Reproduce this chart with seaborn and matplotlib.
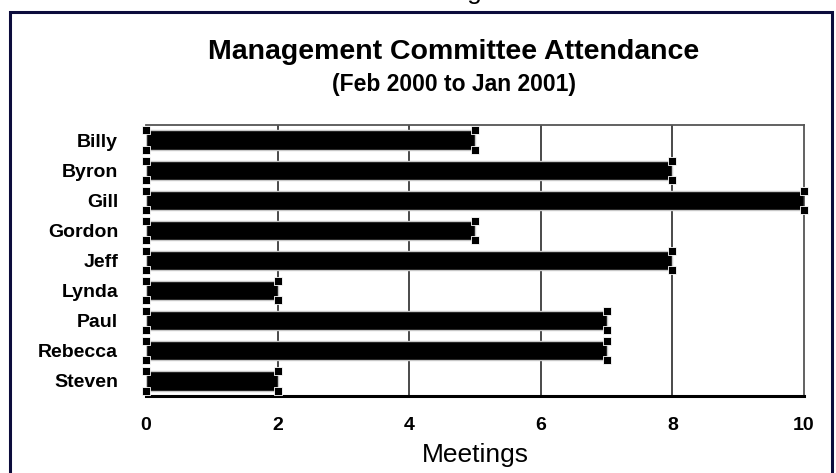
import matplotlib
matplotlib.use("Agg")
import matplotlib.pyplot as plt
import seaborn as sns
import pandas as pd
from matplotlib.patches import Rectangle

# Attendance data
members = ["Billy", "Byron", "Gill", "Gordon", "Jeff", "Lynda", "Paul", "Rebecca", "Steven"]
meetings = [5, 8, 10, 5, 8, 2, 7, 7, 2]
x_ticks = [0, 2, 4, 6, 8, 10]

df = pd.DataFrame({"member": members, "meetings": meetings})

sns.set_theme(style="white")
plt.rcParams["font.family"] = ["Liberation Sans", "DejaVu Sans"]

W, H = 837, 473
fig = plt.figure(figsize=(W / 100, H / 100), dpi=100)
fig.patch.set_facecolor("white")

left, right, top, bottom = 146, 804, 125, 396
ax = fig.add_axes([left / W, 1 - bottom / H, (right - left) / W, (bottom - top) / H])

sns.barplot(data=df, x="meetings", y="member", orient="h", color="black",
            width=0.64, edgecolor="#c8c8c8", linewidth=1.0, saturation=1,
            ax=ax, zorder=3)

ax.set_xlim(0, 10)
ax.set_ylim(len(members) - 0.5, -0.5)
ax.set_xticks(x_ticks)
ax.set_xticklabels([str(t) for t in x_ticks], fontsize=14, fontweight="bold", color="black")
ax.tick_params(axis="x", length=0, pad=15)
ax.tick_params(axis="y", length=0, pad=20)
for lab in ax.get_yticklabels():
    lab.set_fontsize(14)
    lab.set_fontweight("bold")
    lab.set_color("black")

# vertical gridlines
for t in x_ticks[1:-1]:
    ax.axvline(t, color="#3a3a3a", linewidth=1.3, zorder=1)

ax.set_xlabel("")
ax.set_ylabel("")

for side in ["top", "right"]:
    ax.spines[side].set_color("#555555")
    ax.spines[side].set_linewidth(1.3)
ax.spines["bottom"].set_color("black")
ax.spines["bottom"].set_linewidth(2.2)
ax.spines["left"].set_visible(False)

# square handles at the bar corners
hx, hy = [], []
for p in ax.patches:
    x0, y0 = p.get_x(), p.get_y()
    w, h = p.get_width(), p.get_height()
    for xx in (x0, x0 + w):
        hx += [xx, xx]
        hy += [y0, y0 + h]
ax.scatter(hx, hy, marker="s", s=28, color="black", edgecolors="white",
           linewidths=0.6, zorder=5, clip_on=False)

# titles
fig.text(454 / W, 1 - 52 / H, "Management Committee Attendance", ha="center", va="center",
         fontsize=20.5, fontweight="bold", color="black")
fig.text(454 / W, 1 - 85 / H, "(Feb 2000 to Jan 2001)", ha="center", va="center",
         fontsize=16.5, fontweight="bold", color="black")
fig.text(475 / W, 1 - 455 / H, "Meetings", ha="center", va="center",
         fontsize=19, color="black")
# axis title of the chart above, only its descender reaches into this frame
fig.text(442 / W, 1 + 1.5 / H, "Meetings", ha="center", va="baseline",
         fontsize=19, color="black")

# outer frame
frame = Rectangle((10 / W, -0.1), (832 - 10) / W, 1 - 12 / H + 0.1,
                  transform=fig.transFigure, fill=False,
                  edgecolor="#0c0c3c", linewidth=2.2)
fig.add_artist(frame)

fig.savefig("out.png", dpi=100, facecolor="white")
